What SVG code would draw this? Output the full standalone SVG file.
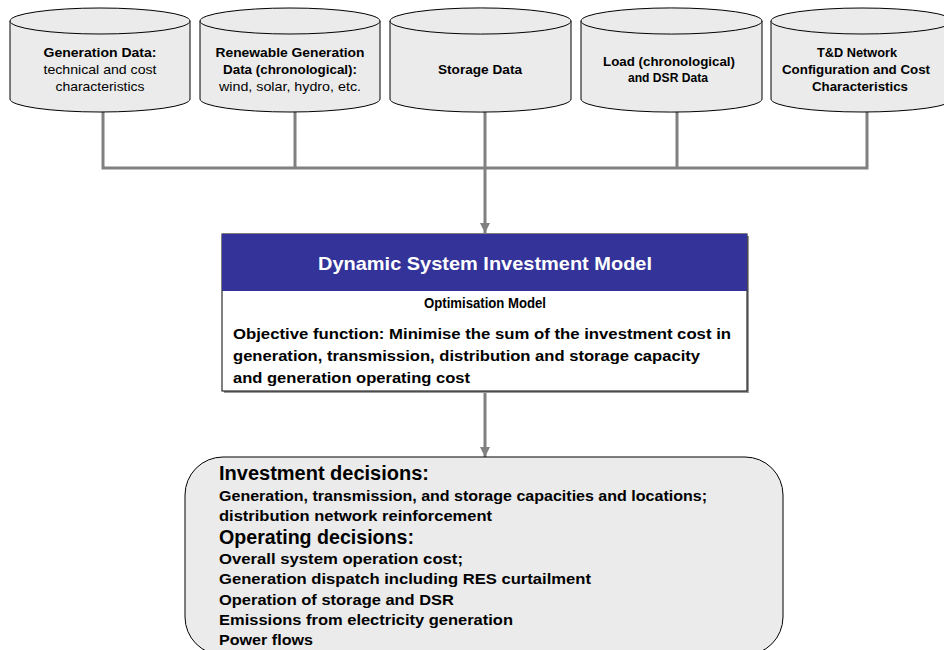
<svg xmlns="http://www.w3.org/2000/svg" width="944" height="650" viewBox="0 0 944 650">
<defs>
<style>
.cyl{fill:#ebebeb;stroke:#000;stroke-width:1}
.conn{fill:none;stroke:#808080;stroke-width:3}
.t{font-family:"Liberation Sans",Arial,sans-serif;fill:#000}
.b{font-weight:bold}
.c{text-anchor:middle}
.s12{font-size:13px}
.l{font-size:15px;font-weight:bold}
.h{font-size:20px;font-weight:bold}
</style>
<marker id="arr" viewBox="0 0 10 10" refX="10" refY="5" markerWidth="10" markerHeight="10" markerUnits="userSpaceOnUse" orient="auto">
<path d="M0,0 L10,5 L0,10 Z" fill="#808080"/>
</marker>
</defs>
<rect width="944" height="650" fill="#fff"/>
<g id="connectors">
<path class="conn" d="M103,111 V168 M295,111 V168 M677,111 V168 M867,111 V168 M101.5,168 H868.5"/>
<path class="conn" d="M485,111 V233" marker-end="url(#arr)"/>
<path class="conn" d="M485,391 V457" marker-end="url(#arr)"/>
</g>
<g id="cyl-generation">
<path class="cyl" d="M10,21 A90,13 0 0 1 190,21 L190,99 A90,13 0 0 1 10,99 Z"/>
<path class="cyl" d="M10,21 A90,13 0 0 0 190,21"/>
<text class="t c s12 b" x="100" y="57" textLength="113" lengthAdjust="spacingAndGlyphs">Generation Data:</text>
<text class="t c s12" x="100" y="74" textLength="113" lengthAdjust="spacingAndGlyphs">technical and cost</text>
<text class="t c s12" x="100" y="91" textLength="89" lengthAdjust="spacingAndGlyphs">characteristics</text>
</g>
<g id="cyl-renewable">
<path class="cyl" d="M200,21 A90,13 0 0 1 380,21 L380,99 A90,13 0 0 1 200,99 Z"/>
<path class="cyl" d="M200,21 A90,13 0 0 0 380,21"/>
<text class="t c s12 b" x="290" y="57" textLength="149" lengthAdjust="spacingAndGlyphs">Renewable Generation</text>
<text class="t c s12 b" x="290" y="74" textLength="134" lengthAdjust="spacingAndGlyphs">Data (chronological):</text>
<text class="t c s12" x="290" y="91" textLength="142" lengthAdjust="spacingAndGlyphs">wind, solar, hydro, etc.</text>
</g>
<g id="cyl-storage">
<path class="cyl" d="M390,21 A90,13 0 0 1 571,21 L571,99 A90,13 0 0 1 390,99 Z"/>
<path class="cyl" d="M390,21 A90,13 0 0 0 571,21"/>
<text class="t c s12 b" x="480" y="74" textLength="84" lengthAdjust="spacingAndGlyphs">Storage Data</text>
</g>
<g id="cyl-load">
<path class="cyl" d="M581,21 A90,13 0 0 1 762,21 L762,99 A90,13 0 0 1 581,99 Z"/>
<path class="cyl" d="M581,21 A90,13 0 0 0 762,21"/>
<text class="t c s12 b" x="669" y="66" textLength="132" lengthAdjust="spacingAndGlyphs">Load (chronological)</text>
<text class="t c s12 b" x="668" y="82" textLength="80" lengthAdjust="spacingAndGlyphs">and DSR Data</text>
</g>
<g id="cyl-network">
<path class="cyl" d="M771,21 A91,13 0 0 1 953,21 L953,99 A91,13 0 0 1 771,99 Z"/>
<path class="cyl" d="M771,21 A91,13 0 0 0 953,21"/>
<text class="t c s12 b" x="857" y="57" textLength="80" lengthAdjust="spacingAndGlyphs">T&amp;D Network</text>
<text class="t c s12 b" x="856" y="74" textLength="148" lengthAdjust="spacingAndGlyphs">Configuration and Cost</text>
<text class="t c s12 b" x="860" y="91" textLength="96" lengthAdjust="spacingAndGlyphs">Characteristics</text>
</g>
<g id="model">
<rect x="224" y="236" width="525" height="157" fill="#999"/>
<rect x="222" y="234" width="525" height="157" fill="#fff" stroke="#000" stroke-width="1"/>
<rect x="222" y="234" width="525" height="57" fill="#333399"/>
<text class="t b c" x="485" y="270" font-size="19" style="fill:#fff" textLength="334" lengthAdjust="spacingAndGlyphs">Dynamic System Investment Model</text>
<text class="t b c" font-size="14" x="485" y="308" textLength="122" lengthAdjust="spacingAndGlyphs">Optimisation Model</text>
<text class="t l" x="233" y="339" textLength="498" lengthAdjust="spacingAndGlyphs">Objective function: Minimise the sum of the investment cost in</text>
<text class="t l" x="233" y="361" textLength="467" lengthAdjust="spacingAndGlyphs">generation, transmission, distribution and storage capacity</text>
<text class="t l" x="233" y="383" textLength="237" lengthAdjust="spacingAndGlyphs">and generation operating cost</text>
</g>
<g id="decisions">
<rect x="185" y="457" width="598" height="198" rx="38" ry="38" fill="#ebebeb" stroke="#000" stroke-width="1"/>
<text class="t h" x="219" y="480" textLength="210" lengthAdjust="spacingAndGlyphs">Investment decisions:</text>
<text class="t l" x="219" y="501" textLength="488" lengthAdjust="spacingAndGlyphs">Generation, transmission, and storage capacities and locations;</text>
<text class="t l" x="219" y="521" textLength="273" lengthAdjust="spacingAndGlyphs">distribution network reinforcement</text>
<text class="t h" x="219" y="544" textLength="195" lengthAdjust="spacingAndGlyphs">Operating decisions:</text>
<text class="t l" x="219" y="564" textLength="244" lengthAdjust="spacingAndGlyphs">Overall system operation cost;</text>
<text class="t l" x="219" y="584" textLength="372" lengthAdjust="spacingAndGlyphs">Generation dispatch including RES curtailment</text>
<text class="t l" x="219" y="605" textLength="235" lengthAdjust="spacingAndGlyphs">Operation of storage and DSR</text>
<text class="t l" x="219" y="625" textLength="294" lengthAdjust="spacingAndGlyphs">Emissions from electricity generation</text>
<text class="t l" x="219" y="645" textLength="94" lengthAdjust="spacingAndGlyphs">Power flows</text>
</g>
</svg>
